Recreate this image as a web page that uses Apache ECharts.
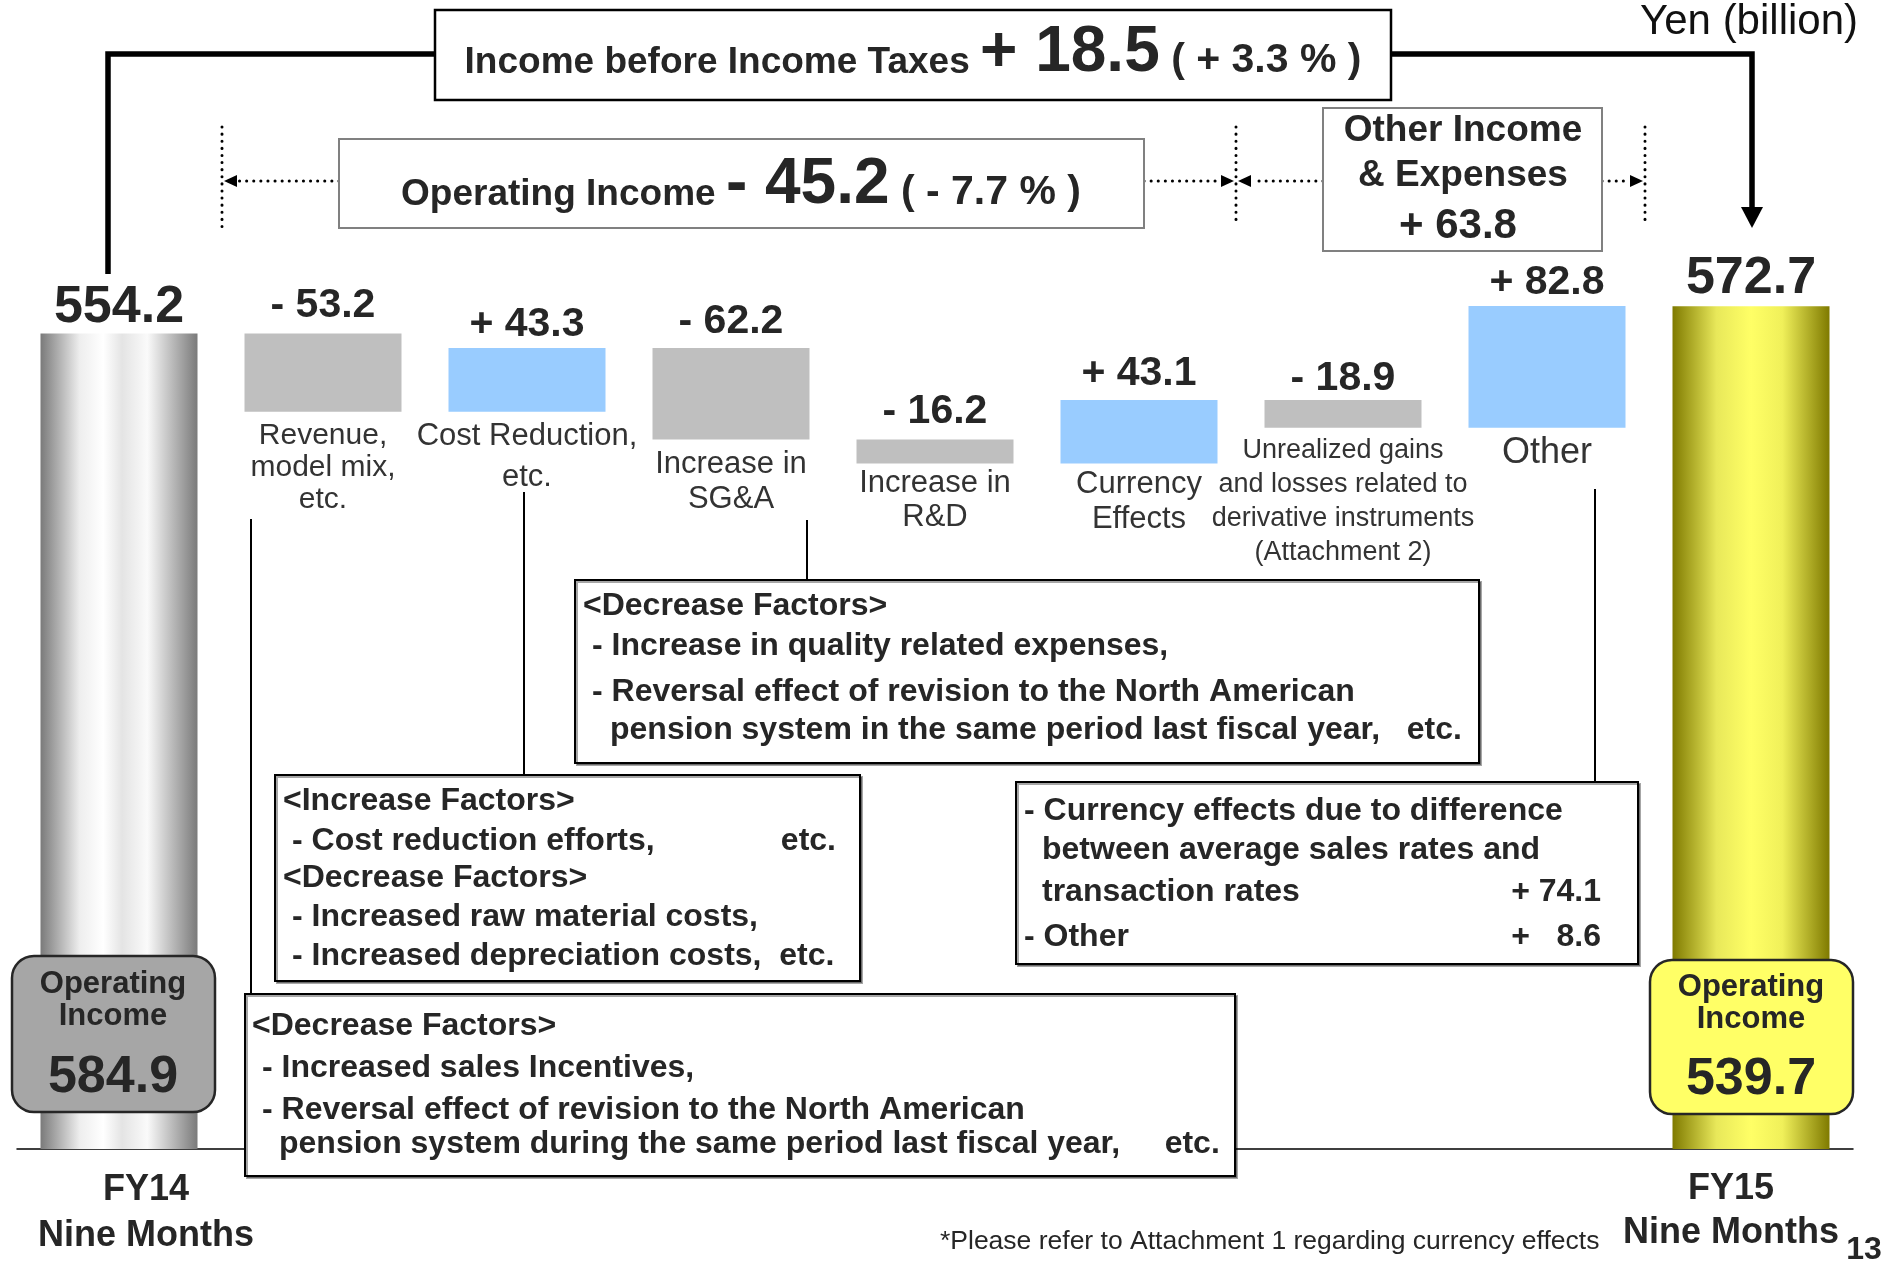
<!DOCTYPE html>
<html><head><meta charset="utf-8">
<script src="https://cdn.jsdelivr.net/npm/echarts@6/dist/echarts.min.js"></script>
<style>html,body{margin:0;padding:0;background:#fff}#c{width:1883px;height:1264px}</style>
</head><body><div id="c"></div>
<script>
// ---------- data ----------
const categories = ['FY14\nNine Months', 'Revenue,\nmodel mix,\netc.', 'Cost Reduction,\netc.', 'Increase in\nSG&A', 'Increase in\nR&D', 'Currency\nEffects', 'Unrealized gains\nand losses related to\nderivative instruments\n(Attachment 2)', 'Other', 'FY15\nNine Months'];
const startTotal = 554.2;
const endTotal = 572.7;
const changes = [-53.2, 43.3, -62.2, -16.2, 43.1, -18.9, 82.8];
const operatingIncome = [584.9, 539.7];
const operatingIncomeChange = [-45.2, -7.7];
const otherIncomeExpenses = 63.8;
const pretaxChange = [18.5, 3.3];
const currencyBreakdown = [74.1, 8.6];
const unitLabel = 'Yen (billion)';

// ---------- derived waterfall ----------
const base = [0], delta = [startTotal], kinds = ['total'];
let cum = startTotal;
changes.forEach(c => {
  const next = +(cum + c).toFixed(1);
  base.push(Math.min(cum, next));
  delta.push(Math.abs(c));
  kinds.push(c < 0 ? 'down' : 'up');
  cum = next;
});
base.push(0); delta.push(endTotal); kinds.push('total');
const signed = v => (v < 0 ? '- ' : '+ ') + Math.abs(v).toFixed(1);
const valueText = [startTotal.toFixed(1)].concat(changes.map(signed)).concat([endTotal.toFixed(1)]);

// ---------- styles ----------
const FONT = '"Liberation Sans", Arial, sans-serif';
const TXT = '#262626';
const valueLabelDistance = [0, 7, 3, 6, 7, 6, 1, 3, 2];
const descStyle = {
  1: { fontSize: 30, lineHeight: 32, distance: 8 },
  2: { lineHeight: 41, distance: 4 },
  3: { lineHeight: 35, distance: 7 },
  4: { lineHeight: 34, distance: 3 },
  5: { lineHeight: 35, distance: 3 },
  6: { fontSize: 27, lineHeight: 34, distance: 6 },
  7: { fontSize: 36, lineHeight: 36, distance: 7 }
};
const grad = (stops) => ({ type: 'linear', x: 0, y: 0, x2: 1, y2: 0, colorStops: stops.map(s => ({ offset: s[0], color: s[1] })) });
const totalColors = [
  grad([[0, '#7a7a7a'], [0.25, '#eeeeee'], [0.4, '#ffffff'], [0.52, '#e4e4e4'], [0.68, '#fafafa'], [1, '#7a7a7a']]),
  grad([[0, '#7f7a00'], [0.28, '#e8e85a'], [0.5, '#ffff66'], [0.7, '#f0f05a'], [1, '#7f7a00']])
];
const colorFor = (k, i) => k === 'up' ? '#99ccff' : k === 'down' ? '#bfbfbf' : totalColors[i === 0 ? 0 : 1];

// ---------- graphic helpers ----------
function T(x, y, text, size, opt) {
  opt = opt || {};
  return { type: 'text', z: 110, x: x, y: y, style: {
    text: text, fontSize: size, fontWeight: opt.weight || 'bold', fontFamily: FONT, fill: opt.fill || TXT,
    align: opt.align || 'left', verticalAlign: 'middle', textAlign: opt.align || 'left', textVerticalAlign: 'middle',
    rich: opt.rich, lineHeight: opt.lineHeight } };
}
function R(x, y, w, h, opt) {
  opt = opt || {};
  return { type: 'rect', z: 100, shape: { x: x, y: y, width: w, height: h, r: opt.r || 0 },
    style: { fill: opt.fill || '#fff', stroke: opt.stroke || '#000', lineWidth: opt.lw || 2,
      shadowColor: opt.shadow ? 'rgba(0,0,0,0.35)' : null, shadowOffsetX: opt.shadow ? 2 : 0, shadowOffsetY: opt.shadow ? 2 : 0, shadowBlur: 0 } };
}
function L(x1, y1, x2, y2, opt) {
  opt = opt || {};
  return { type: 'line', z: 100, shape: { x1: x1, y1: y1, x2: x2, y2: y2 },
    style: { stroke: '#000', lineWidth: opt.lw || 2, lineDash: opt.dot ? [0.1, 7] : null, lineCap: opt.dot ? 'round' : 'butt' } };
}
function P(points, fill) {
  return { type: 'polygon', z: 100, shape: { points: points }, style: { fill: fill || '#000' } };
}
function PL(points, lw) {
  return { type: 'polyline', z: 100, shape: { points: points }, style: { stroke: '#000', lineWidth: lw, fill: null, lineJoin: 'miter' } };
}

const bigRich = (a, b, c, sa, sb, sc) => ({
  text: '{a|' + a + '}{b|' + b + '}{c|' + c + '}',
  rich: {
    a: { fontSize: sa, fontWeight: 'bold', fontFamily: FONT, fill: TXT, color: TXT, lineHeight: sb, verticalAlign: 'bottom', padding: [0, 0, 4, 0] },
    b: { fontSize: sb, fontWeight: 'bold', fontFamily: FONT, fill: TXT, color: TXT, lineHeight: sb, verticalAlign: 'bottom' },
    c: { fontSize: sc, fontWeight: 'bold', fontFamily: FONT, fill: TXT, color: TXT, lineHeight: sb, verticalAlign: 'bottom', padding: [0, 0, 4, 0] }
  }
});

const taxRich = bigRich('Income before Income Taxes ', signed(pretaxChange[0]), ' ( + ' + pretaxChange[1].toFixed(1) + ' % )', 37, 64, 41);
const opRich = bigRich('Operating Income ', signed(operatingIncomeChange[0]), ' ( - ' + Math.abs(operatingIncomeChange[1]).toFixed(1) + ' % )', 37, 64, 41);

const graphics = [
  // income before taxes bracket
  PL([[108, 274], [108, 54], [436, 54]], 5.5),
  PL([[1390, 54], [1752, 54], [1752, 210]], 5.5),
  P([[1741, 207], [1763, 207], [1752, 228]]),
  R(435, 10, 956, 90, { lw: 2.5 }),
  T(913, 53, taxRich.text, 37, { align: 'center', rich: taxRich.rich }),
  // operating income
  L(222, 127, 222, 233, { dot: true, lw: 3 }),
  L(1236, 127, 1236, 226, { dot: true, lw: 3 }),
  L(1645, 127, 1645, 226, { dot: true, lw: 3 }),
  L(339, 181, 238, 181, { dot: true, lw: 3 }),
  P([[224, 181], [237, 175], [237, 187]]),
  L(1144, 181, 1220, 181, { dot: true, lw: 3 }),
  P([[1234, 181], [1221, 175], [1221, 187]]),
  L(1323, 181, 1252, 181, { dot: true, lw: 3 }),
  P([[1238, 181], [1251, 175], [1251, 187]]),
  L(1602, 181, 1629, 181, { dot: true, lw: 3 }),
  P([[1643, 181], [1630, 175], [1630, 187]]),
  R(339, 139, 805, 89, { stroke: '#808080', lw: 2 }),
  T(741, 185, opRich.text, 37, { align: 'center', rich: opRich.rich }),
  // other income & expenses
  R(1323, 108, 279, 143, { stroke: '#808080', lw: 2 }),
  T(1463, 131, 'Other Income', 37, { align: 'center' }),
  T(1463, 176, '& Expenses', 37, { align: 'center' }),
  T(1458, 226, signed(otherIncomeExpenses), 42, { align: 'center' }),
  // unit
  T(1858, 22, unitLabel, 42, { align: 'right', weight: 'normal', fill: '#111' }),
  // leader lines
  L(251, 519, 251, 994),
  L(524, 492, 524, 775),
  L(807, 520, 807, 580),
  L(1595, 489, 1595, 782),
  // SG&A box
  R(575, 580, 904, 183, { shadow: true }),
  T(583, 606, '<Decrease Factors>', 32),
  T(592, 646, '- Increase in quality related expenses,', 32),
  T(592, 692, '- Reversal effect of revision to the North American', 32),
  T(610, 730, 'pension system in the same period last fiscal year,   etc.', 32),
  // cost reduction box
  R(275, 775, 585, 206, { shadow: true }),
  T(283, 801, '<Increase Factors>', 32),
  T(292, 841, '- Cost reduction efforts,', 32),
  T(836, 841, 'etc.', 32, { align: 'right' }),
  T(283, 878, '<Decrease Factors>', 32),
  T(292, 917, '- Increased raw material costs,', 32),
  T(292, 956, '- Increased depreciation costs,  etc.', 32),
  // revenue box
  R(245, 994, 990, 182, { shadow: true }),
  T(252, 1026, '<Decrease Factors>', 32),
  T(262, 1068, '- Increased sales Incentives,', 32),
  T(262, 1110, '- Reversal effect of revision to the North American', 32),
  T(279, 1144, 'pension system during the same period last fiscal year,     etc.', 32),
  // other box
  R(1016, 782, 622, 182, { shadow: true }),
  T(1024, 811, '- Currency effects due to difference', 32),
  T(1042, 850, 'between average sales rates and', 32),
  T(1042, 892, 'transaction rates', 32),
  T(1601, 892, signed(currencyBreakdown[0]), 32, { align: 'right' }),
  T(1024, 937, '- Other', 32),
  T(1601, 937, '+   ' + currencyBreakdown[1].toFixed(1), 32, { align: 'right' }),
  // operating income badges
  R(12, 956, 203, 156, { r: 22, fill: '#a6a6a6', stroke: '#262626', lw: 2.5 }),
  T(113, 984, 'Operating', 31, { align: 'center' }),
  T(113, 1016, 'Income', 31, { align: 'center' }),
  T(113, 1078, operatingIncome[0].toFixed(1), 52, { align: 'center' }),
  R(1650, 960, 203, 154, { r: 22, fill: '#ffff66', stroke: '#262626', lw: 2.5 }),
  T(1751, 987, 'Operating', 31, { align: 'center' }),
  T(1751, 1019, 'Income', 31, { align: 'center' }),
  T(1751, 1080, operatingIncome[1].toFixed(1), 52, { align: 'center' }),
  // footnote & page
  T(940, 1242, '*Please refer to Attachment 1 regarding currency effects', 26.5, { weight: 'normal' }),
  T(1864, 1250, '13', 32, { align: 'center' })
];

const chart = echarts.init(document.getElementById('c'), null, { renderer: 'canvas' });
chart.setOption({
  animation: false,
  backgroundColor: '#fff',
  grid: { left: 17, right: 30, top: 119, bottom: 115, containLabel: false, outerBoundsMode: 'none' },
  xAxis: {
    type: 'category', data: categories,
    axisLine: { lineStyle: { color: '#000', width: 1.5 } },
    axisTick: { show: false },
    axisLabel: {
      interval: 0, margin: 18,
      formatter: (v, i) => {
        if (i === 0) return v.split('\n').map(s => '{l|' + s + '}').join('\n');
        if (i === categories.length - 1) return v.split('\n').map(s => '{r|' + s + '}').join('\n');
        return '';
      },
      rich: {
        l: { fontSize: 36, fontWeight: 'bold', fontFamily: FONT, color: TXT, lineHeight: 46, padding: [0, 0, 0, 54] },
        r: { fontSize: 36, fontWeight: 'bold', fontFamily: FONT, color: TXT, lineHeight: 44, padding: [0, 40, 0, 0] }
      }
    }
  },
  yAxis: { type: 'value', min: 0, max: 700, show: false, splitLine: { show: false } },
  series: [
    {
      name: 'base', type: 'bar', stack: 'w', barWidth: 157, silent: true,
      itemStyle: { color: 'rgba(0,0,0,0)' },
      data: base.map((v, i) => ({
        value: v,
        label: kinds[i] === 'total' ? { show: false } : Object.assign({
          show: true, position: 'insideTop', formatter: () => categories[i],
          color: '#333', fontSize: 31, fontFamily: FONT, lineHeight: 34, distance: 5, align: 'center'
        }, descStyle[i] || {})
      }))
    },
    {
      name: 'delta', type: 'bar', stack: 'w', barWidth: 157, silent: true,
      data: delta.map((v, i) => ({
        value: v,
        itemStyle: { color: colorFor(kinds[i], i) },
        label: {
          show: true, position: 'top', distance: valueLabelDistance[i],
          formatter: () => valueText[i],
          fontSize: kinds[i] === 'total' ? 52 : 41, fontWeight: 'bold', fontFamily: FONT, color: TXT
        }
      }))
    }
  ],
  graphic: graphics
});
</script>
</body></html>
